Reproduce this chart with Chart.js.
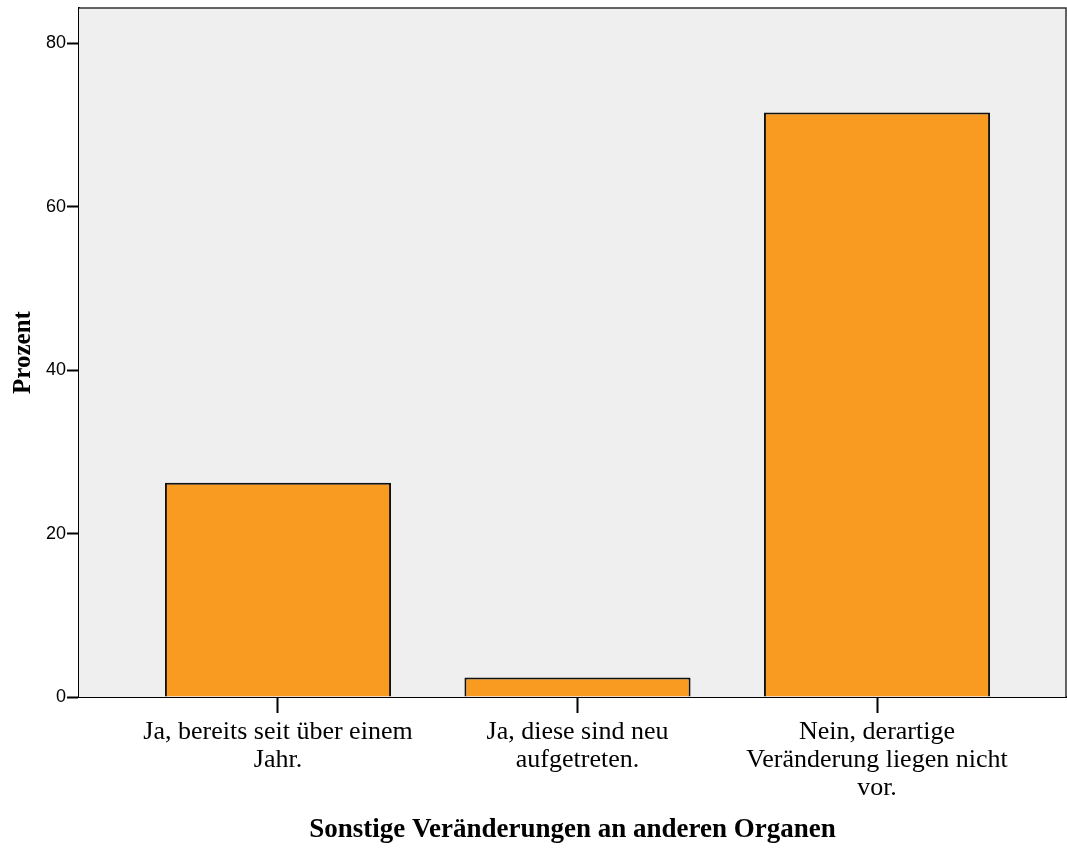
<!DOCTYPE html>
<html>
<head>
<meta charset="utf-8">
<script src="https://cdn.jsdelivr.net/npm/chart.js@4/dist/chart.umd.min.js"></script>
<style>
  html, body { margin: 0; padding: 0; background: #fff; }
  canvas { display: block; }
</style>
</head>
<body>
<canvas id="c" width="1067" height="850"></canvas>
<script>
// Kategorien (mehrzeilig) und Prozentwerte
const categories = [
  ["Ja, bereits seit über einem", "Jahr."],
  ["Ja, diese sind neu", "aufgetreten."],
  ["Nein, derartige", "Veränderung liegen nicht", "vor."],
];
const positions = [1, 2, 3];
const percent = [26.2, 2.4, 71.5];
const yTicks = [0, 20, 40, 60, 80];

const SERIF = "'Times New Roman', 'Liberation Serif', serif";
const SANS = "Arial, 'Liberation Sans', sans-serif";

// grauer Plot-Hintergrund + dünner Rahmen oben/rechts
const plotBg = {
  id: "plotBg",
  beforeDatasetsDraw(chart) {
    const { ctx, chartArea: a } = chart;
    ctx.save();
    ctx.fillStyle = "#efefef";
    ctx.fillRect(a.left, a.top, a.right - a.left, a.bottom - a.top);
    ctx.restore();
  },
  afterDraw(chart) {
    const { ctx, chartArea: a } = chart;
    ctx.save();
    ctx.strokeStyle = "#333";
    ctx.lineWidth = 1.5;
    ctx.beginPath();
    ctx.moveTo(a.left, a.top);
    ctx.lineTo(a.right, a.top);
    ctx.lineTo(a.right, a.bottom);
    ctx.stroke();
    ctx.restore();
  },
};

new Chart(document.getElementById("c"), {
  type: "bar",
  data: {
    datasets: [{
      data: positions.map((x, i) => ({ x, y: percent[i] })),
      backgroundColor: "#f99b21",
      borderColor: "#111",
      borderWidth: 2,
      categoryPercentage: 1,
      barPercentage: 0.755,
    }],
  },
  plugins: [plotBg],
  options: {
    responsive: false,
    devicePixelRatio: 1,
    animation: false,
    layout: { padding: { top: 8, right: 1, left: 1, bottom: 0 } },
    plugins: { legend: { display: false }, tooltip: { enabled: false } },
    scales: {
      x: {
        type: "linear",
        offset: false,
        min: 0.3356,
        max: 3.631,
        afterBuildTicks: (s) => { s.ticks = positions.map((v) => ({ value: v })); },
        afterFit: (s) => { s.height = 153; s.paddingLeft = 0; s.paddingRight = 0; },
        grid: { offset: false, drawOnChartArea: false, tickLength: 16, tickWidth: 2, tickColor: "#000" },
        border: { display: true, color: "#000", width: 2 },
        ticks: {
          color: "#000",
          padding: 5,
          maxRotation: 0,
          autoSkip: false,
          font: { family: SERIF, size: 26, lineHeight: "28px" },
          callback: (v) => categories[positions.indexOf(v)] ?? "",
        },
        title: {
          display: true,
          text: "Sonstige Veränderungen an anderen Organen",
          color: "#000",
          font: { family: SERIF, size: 27, weight: "bold" },
          padding: { top: 0, bottom: 4 },
        },
      },
      y: {
        min: 0,
        max: 84.3,
        afterBuildTicks: (s) => { s.ticks = yTicks.map((v) => ({ value: v })); },
        afterFit: (s) => { s.width = 78; s.paddingTop = 0; s.paddingBottom = 0; },
        grid: { drawOnChartArea: false, tickLength: 12, tickWidth: 2, tickColor: "#000" },
        border: { display: true, color: "#000", width: 2 },
        ticks: {
          color: "#000",
          padding: 1,
          font: { family: SANS, size: 18 },
        },
        title: {
          display: true,
          text: "Prozent",
          color: "#000",
          font: { family: SERIF, size: 25, weight: "bold" },
          padding: { top: 8, bottom: 0 },
        },
      },
    },
  },
});
</script>
</body>
</html>
